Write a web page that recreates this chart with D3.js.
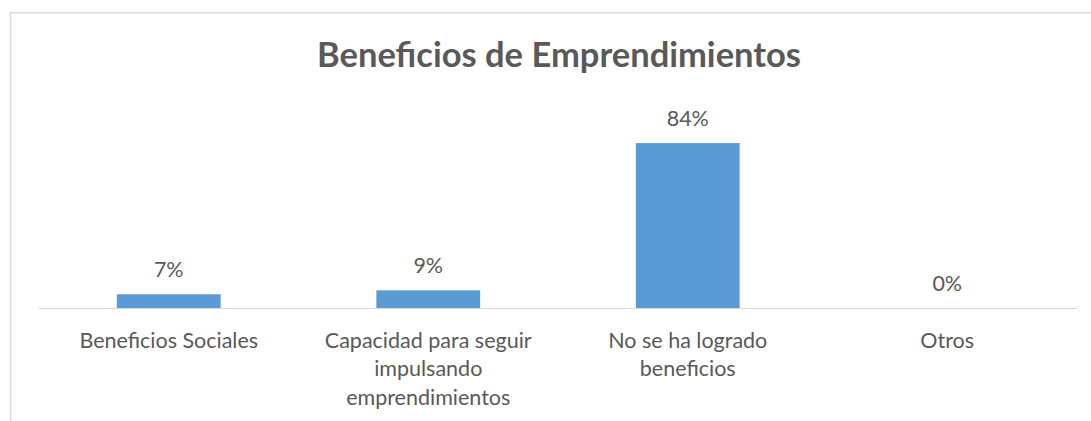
<!DOCTYPE html>
<html>
<head>
<meta charset="utf-8">
<script src="https://cdn.jsdelivr.net/npm/d3@7"></script>
<style>
  body { margin: 0; background: #fff; }
  svg text { font-family: Lato, "Open Sans", sans-serif; fill: #595959; }
</style>
</head>
<body>
<svg id="chart" width="1091" height="421"></svg>
<script>
var categories = ['Beneficios Sociales', 'Capacidad para seguir impulsando emprendimientos', 'No se ha logrado beneficios', 'Otros'];
var values = [0.07, 0.09, 0.84, 0];
var title = 'Beneficios de Emprendimientos';

var svg = d3.select('#chart');
var labelSize = '21.5px';

// chart frame (right and bottom edges fall outside the picture)
svg.append('rect')
    .attr('x', 10.5).attr('y', 12.75)
    .attr('width', 1110).attr('height', 430)
    .attr('fill', 'none')
    .attr('stroke', '#d9d9d9')
    .attr('stroke-width', 1.5);

var plot = {left: 39, right: 1077, top: 131.3, bottom: 308};

var x = d3.scaleBand()
    .domain(categories)
    .range([plot.left, plot.right])
    .paddingInner(0.6)
    .paddingOuter(0.3);

var y = d3.scaleLinear()
    .domain([0, 0.9])
    .range([plot.bottom, plot.top]);

var data = categories.map(function(c, i) { return {cat: c, value: values[i]}; });

svg.append('text')
    .attr('x', 559)
    .attr('y', 67)
    .attr('text-anchor', 'middle')
    .style('font-size', '34.5px')
    .style('font-weight', 'bold')
    .text(title);

svg.selectAll('.bar')
    .data(data)
    .enter().append('rect')
    .attr('class', 'bar')
    .attr('x', function(d) { return x(d.cat); })
    .attr('width', x.bandwidth())
    .attr('y', function(d) { return y(d.value); })
    .attr('height', function(d) { return y(0) - y(d.value); })
    .attr('fill', '#5b9bd5');

// category axis
var axisG = svg.append('g')
    .attr('transform', 'translate(0,' + plot.bottom + ')')
    .call(d3.axisBottom(x).tickSize(0).tickPadding(0));
axisG.select('.domain')
    .attr('d', 'M' + plot.left + ',0.5H' + plot.right)
    .attr('stroke', '#d9d9d9');
axisG.selectAll('.tick text').remove();

svg.selectAll('.value-label')
    .data(data)
    .enter().append('text')
    .attr('class', 'value-label')
    .attr('x', function(d) { return x(d.cat) + x.bandwidth() / 2; })
    .attr('y', function(d) { return y(d.value) - 17.5; })
    .attr('text-anchor', 'middle')
    .style('font-size', labelSize)
    .text(function(d) { return d3.format('.0%')(d.value); });

function wrapWords(text, maxWidth, measure) {
    var words = text.split(' ');
    var lines = [];
    var line = words[0];
    for (var i = 1; i < words.length; i++) {
        var test = line + ' ' + words[i];
        if (measure(test) > maxWidth) {
            lines.push(line);
            line = words[i];
        } else {
            line = test;
        }
    }
    lines.push(line);
    return lines;
}

var probe = svg.append('text').style('font-size', labelSize).attr('opacity', 0);
function measure(s) { probe.text(s); return probe.node().getComputedTextLength(); }

svg.selectAll('.cat-label')
    .data(data)
    .enter().append('text')
    .attr('class', 'cat-label')
    .attr('text-anchor', 'middle')
    .style('font-size', labelSize)
    .each(function(d) {
        var t = d3.select(this);
        var cx = x(d.cat) + x.bandwidth() / 2;
        wrapWords(d.cat, 240, measure).forEach(function(l, i) {
            t.append('tspan')
                .attr('x', cx)
                .attr('y', plot.bottom + 39.5 + i * 28.5)
                .text(l);
        });
    });
probe.remove();
</script>
</body>
</html>
